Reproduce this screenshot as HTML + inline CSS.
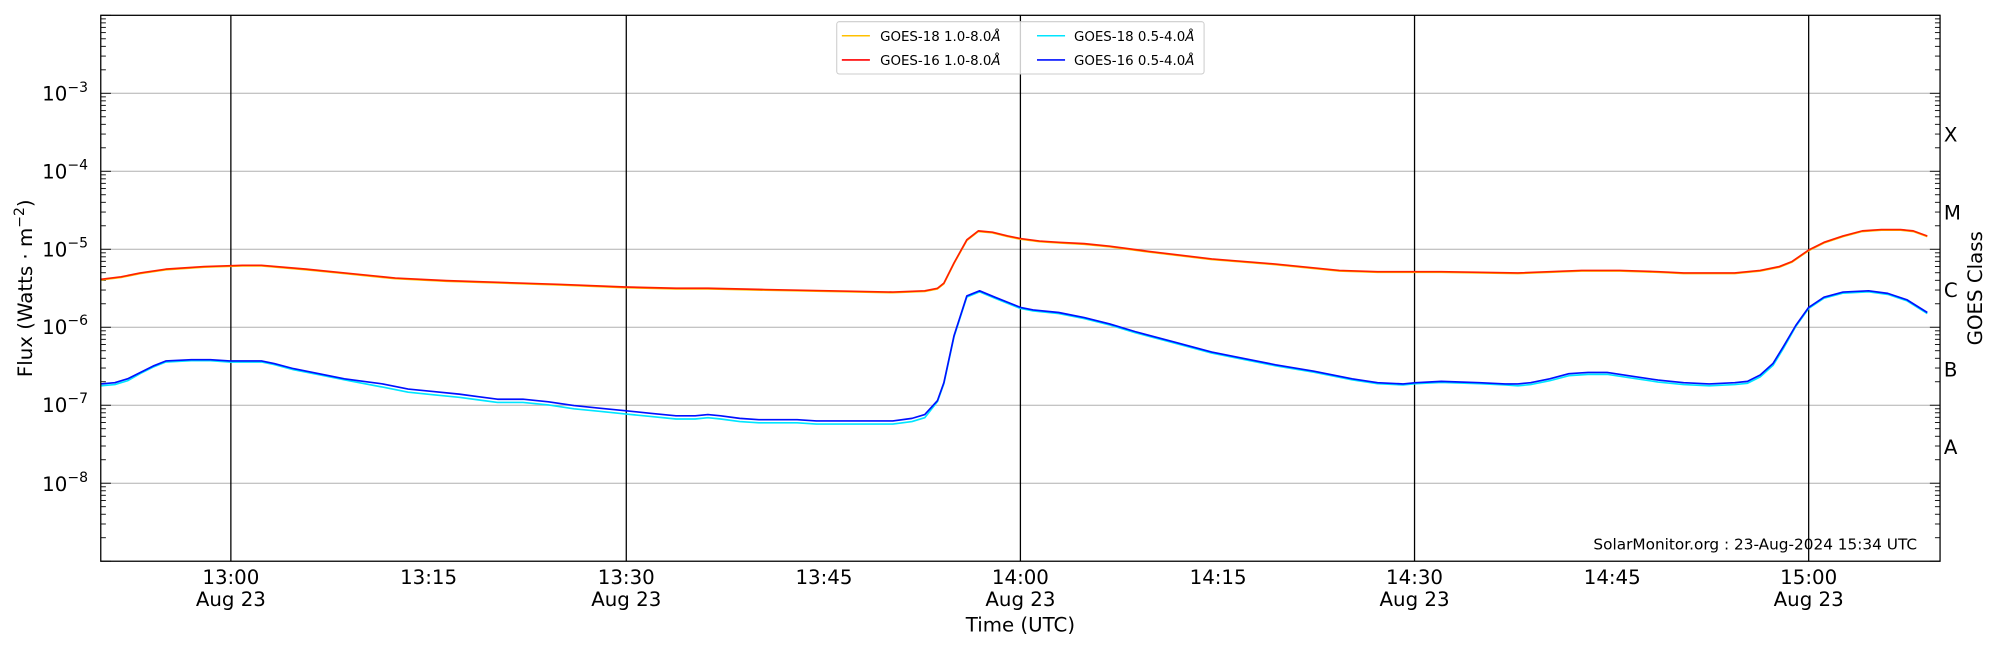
<!DOCTYPE html>
<html><head><meta charset="utf-8"><style>
html,body{margin:0;padding:0;background:#fff;}
svg{display:block;}
text{font-family:"DejaVu Sans","Liberation Sans",sans-serif;fill:#000;}
</style></head><body>
<svg id="s" width="2000" height="650" viewBox="0 0 1568 509.6" xmlns="http://www.w3.org/2000/svg">
<g id="grid" stroke="#b0b0b0" stroke-width="0.8"></g>
<g id="vl" stroke="#000" stroke-width="1"></g>
<g id="ticks" stroke="#000" stroke-width="0.7"></g>
<g fill="none" stroke-width="1.3" stroke-linejoin="round">
<polyline id="orange" stroke="#ffc000"/>
<polyline id="red" stroke="#ff2000"/>
<polyline id="cyan" stroke="#00e5ff"/>
<polyline id="blue" stroke="#0010ff"/>
</g>
<rect x="79" y="12" width="1442" height="428" fill="none" stroke="#000" stroke-width="1"/>
<g font-size="15.5" text-anchor="end">
<text x="69" y="79">10<tspan font-size="11" dy="-7">−3</tspan></text>
<text x="69" y="140">10<tspan font-size="11" dy="-7">−4</tspan></text>
<text x="69" y="201">10<tspan font-size="11" dy="-7">−5</tspan></text>
<text x="69" y="262">10<tspan font-size="11" dy="-7">−6</tspan></text>
<text x="69" y="323">10<tspan font-size="11" dy="-7">−7</tspan></text>
<text x="69" y="385">10<tspan font-size="11" dy="-7">−8</tspan></text>
</g>
<g font-size="15.5">
<text x="1524" y="111">X</text>
<text x="1524" y="172">M</text>
<text x="1524" y="233">C</text>
<text x="1524" y="295">B</text>
<text x="1524" y="356">A</text>
</g>
<g font-size="15.5" text-anchor="middle">
<text x="181" y="458">13:00</text><text x="181" y="475">Aug 23</text>
<text x="336" y="458">13:15</text>
<text x="491" y="458">13:30</text><text x="491" y="475">Aug 23</text>
<text x="646" y="458">13:45</text>
<text x="800" y="458">14:00</text><text x="800" y="475">Aug 23</text>
<text x="955" y="458">14:15</text>
<text x="1109" y="458">14:30</text><text x="1109" y="475">Aug 23</text>
<text x="1264" y="458">14:45</text>
<text x="1418" y="458">15:00</text><text x="1418" y="475">Aug 23</text>
<text x="800" y="495">Time (UTC)</text>
<text transform="translate(25,226) rotate(-90)">Flux (Watts · m<tspan font-size="11" dy="-6">−2</tspan><tspan dy="6">)</tspan></text>
<text transform="translate(1554,226) rotate(-90)">GOES Class</text>
</g>
<text x="1503" y="431" font-size="12" text-anchor="end">SolarMonitor.org : 23-Aug-2024 15:34 UTC</text>
<rect x="656" y="17" width="288" height="41" rx="2" fill="#fff" fill-opacity="0.8" stroke="#ccc" stroke-width="0.8"/>
<g stroke-width="1.2">
<line x1="660" y1="28" x2="682" y2="28" stroke="#ffc000"/>
<line x1="660" y1="47" x2="682" y2="47" stroke="#ff0000"/>
<line x1="813" y1="28" x2="835" y2="28" stroke="#00e5ff"/>
<line x1="813" y1="47" x2="835" y2="47" stroke="#0010ff"/>
</g>
<g font-size="10.5">
<text x="690" y="32">GOES-18 1.0-8.0<tspan font-style="italic">Å</tspan></text>
<text x="690" y="51">GOES-16 1.0-8.0<tspan font-style="italic">Å</tspan></text>
<text x="842" y="32">GOES-18 0.5-4.0<tspan font-style="italic">Å</tspan></text>
<text x="842" y="51">GOES-16 0.5-4.0<tspan font-style="italic">Å</tspan></text>
</g>
</svg>
<script>
(function(){
var NS="http://www.w3.org/2000/svg";
function ln(g,x1,y1,x2,y2){var l=document.createElementNS(NS,"line");l.setAttribute("x1",x1);l.setAttribute("y1",y1);l.setAttribute("x2",x2);l.setAttribute("y2",y2);document.getElementById(g).appendChild(l);}
var T0=12,dec=61.14;
function Y(e){return T0+(-2-e)*dec;}
for(var d=-3;d>=-8;d--){ln("grid",79,Y(d),1521,Y(d));}
[181,491,800,1109,1418].forEach(function(x){ln("vl",x,12,x,440);});
for(var d=-9;d<=-2;d++){
 var y0=Y(d);
 if(y0>=12&&y0<=440){ln("ticks",79,y0,87,y0);ln("ticks",1521,y0,1513,y0);}
 for(var k=2;k<10;k++){var y=Y(d+Math.log10(k));if(y<12||y>440)continue;ln("ticks",79,y,83,y);ln("ticks",1521,y,1517,y);}
}
var red=[[79,219],[95,217],[110,214],[130,211],[160,209],[190,208],[205,208],[240,211],[270,214],[310,218],[350,220],[410,222],[440,223],[490,225],[530,226],[555,226],[600,227],[650,228],[700,229],[725,228],[735,226],[740,222],[748,206],[758,188],[767,181],[778,182],[790,185],[800,187],[815,189],[830,190],[850,191],[870,193],[900,197],[950,203],[1000,207],[1050,212],[1080,213],[1100,213],[1130,213],[1190,214],[1240,212],[1270,212],[1300,213],[1320,214],[1360,214],[1380,212],[1395,209],[1405,205],[1418,196],[1430,190],[1445,185],[1460,181],[1475,180],[1490,180],[1500,181],[1511,185]];
var blue=[[79,301],[90,300],[100,297],[110,292],[120,287],[130,283],[150,282],[165,282],[180,283],[190,283],[205,283],[215,285],[230,289],[250,293],[270,297],[300,301],[320,305],[340,307],[360,309],[375,311],[390,313],[410,313],[430,315],[450,318],[470,320],[490,322],[510,324],[530,326],[545,326],[555,325],[565,326],[580,328],[595,329],[610,329],[625,329],[640,330],[660,330],[680,330],[700,330],[715,328],[725,325],[735,314],[740,300],[748,263],[758,232],[768,228],[780,233],[800,241],[810,243],[830,245],[850,249],[870,254],[890,260],[920,268],[950,276],[975,281],[1000,286],[1030,291],[1060,297],[1080,300],[1100,301],[1110,300],[1130,299],[1160,300],[1180,301],[1190,301],[1200,300],[1215,297],[1230,293],[1245,292],[1260,292],[1280,295],[1300,298],[1320,300],[1340,301],[1360,300],[1370,299],[1380,294],[1390,285],[1398,272],[1408,255],[1418,241],[1430,233],[1445,229],[1465,228],[1480,230],[1495,235],[1511,245]];
function pts(a,dy){return a.map(function(p){return p[0]+","+(p[1]+(dy?dy(p[0]):0));}).join(" ");}
document.getElementById("red").setAttribute("points",pts(red));
document.getElementById("orange").setAttribute("points",pts(red,function(){return 0.5;}));
document.getElementById("blue").setAttribute("points",pts(blue));
document.getElementById("cyan").setAttribute("points",pts(blue,function(x){return (x>280&&x<735)?2.5:((x>1180&&x<1400)||x<110?1.5:0.8);}));
})();
</script>
</body></html>
